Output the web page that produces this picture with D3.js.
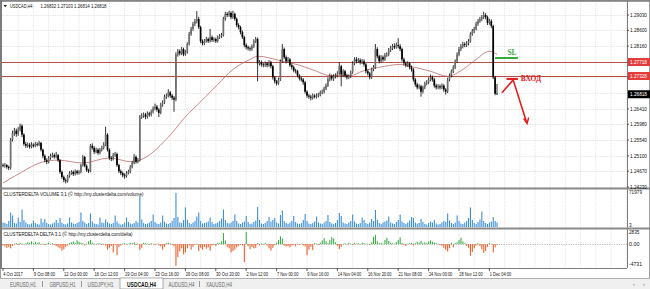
<!DOCTYPE html>
<html>
<head>
<meta charset="utf-8">
<script src="https://cdn.jsdelivr.net/npm/d3@7/dist/d3.min.js"></script>
<style>
body { margin: 0; background: #fff; }
svg { display: block; font-family: "Liberation Sans", "DejaVu Sans", sans-serif; }
</style>
</head>
<body>
<svg id="chart" width="650" height="289"></svg>
<script>
// USDCAD H4, first bar 4 Oct 2017 16:00
const firstOpen = 1.2484;
const closes = [
	1.2482, 1.2484, 1.2479, 1.2476, 1.2555, 1.2574, 1.2580, 1.2571, 1.2583, 1.2594,
	1.2569, 1.2543, 1.2538, 1.2541, 1.2535, 1.2541, 1.2538, 1.2543, 1.2541, 1.2546,
	1.2527, 1.2510, 1.2498, 1.2493, 1.2504, 1.2510, 1.2512, 1.2507, 1.2512, 1.2498,
	1.2465, 1.2451, 1.2442, 1.2439, 1.2453, 1.2462, 1.2465, 1.2459, 1.2467, 1.2462,
	1.2465, 1.2484, 1.2507, 1.2482, 1.2470, 1.2467, 1.2538, 1.2532, 1.2521, 1.2527,
	1.2518, 1.2527, 1.2532, 1.2541, 1.2569, 1.2527, 1.2504, 1.2501, 1.2512, 1.2515,
	1.2484, 1.2467, 1.2462, 1.2456, 1.2453, 1.2462, 1.2465, 1.2479, 1.2490, 1.2507,
	1.2493, 1.2498, 1.2619, 1.2622, 1.2625, 1.2619, 1.2628, 1.2625, 1.2633, 1.2642,
	1.2647, 1.2639, 1.2630, 1.2653, 1.2659, 1.2675, 1.2678, 1.2687, 1.2678, 1.2672,
	1.2667, 1.2793, 1.2802, 1.2796, 1.2808, 1.2793, 1.2799, 1.2822, 1.2850, 1.2864,
	1.2878, 1.2886, 1.2892, 1.2869, 1.2830, 1.2824, 1.2830, 1.2836, 1.2830, 1.2841,
	1.2833, 1.2836, 1.2830, 1.2841, 1.2844, 1.2847, 1.2892, 1.2906, 1.2903, 1.2909,
	1.2897, 1.2906, 1.2892, 1.2875, 1.2869, 1.2855, 1.2841, 1.2819, 1.2813, 1.2810,
	1.2808, 1.2816, 1.2830, 1.2836, 1.2768, 1.2771, 1.2765, 1.2763, 1.2768, 1.2763,
	1.2771, 1.2760, 1.2729, 1.2718, 1.2712, 1.2723, 1.2774, 1.2808, 1.2785, 1.2774,
	1.2779, 1.2763, 1.2757, 1.2748, 1.2746, 1.2734, 1.2726, 1.2723, 1.2715, 1.2689,
	1.2678, 1.2675, 1.2672, 1.2678, 1.2675, 1.2678, 1.2681, 1.2687, 1.2689, 1.2698,
	1.2706, 1.2723, 1.2732, 1.2726, 1.2732, 1.2734, 1.2740, 1.2760, 1.2737, 1.2746,
	1.2734, 1.2729, 1.2732, 1.2743, 1.2768, 1.2779, 1.2774, 1.2777, 1.2771, 1.2774,
	1.2765, 1.2746, 1.2740, 1.2729, 1.2751, 1.2757, 1.2808, 1.2788, 1.2774, 1.2785,
	1.2779, 1.2791, 1.2793, 1.2805, 1.2810, 1.2816, 1.2813, 1.2819, 1.2816, 1.2808,
	1.2779, 1.2768, 1.2763, 1.2768, 1.2757, 1.2751, 1.2723, 1.2709, 1.2701, 1.2704,
	1.2689, 1.2701, 1.2712, 1.2715, 1.2723, 1.2729, 1.2723, 1.2706, 1.2701, 1.2704,
	1.2701, 1.2706, 1.2695, 1.2689, 1.2723, 1.2734, 1.2746, 1.2757, 1.2774, 1.2793,
	1.2808, 1.2816, 1.2822, 1.2819, 1.2824, 1.2830, 1.2850, 1.2858, 1.2864, 1.2878,
	1.2886, 1.2892, 1.2897, 1.2903, 1.2897, 1.2881, 1.2886, 1.2872, 1.2729, 1.26832,
	1.26818
];
const highs = [
	1.2489, 1.2490, 1.2487, 1.2483, 1.2560, 1.2580, 1.2588, 1.2586, 1.2590, 1.2600,
	1.2598, 1.2573, 1.2549, 1.2547, 1.2546, 1.2548, 1.2545, 1.2549, 1.2548, 1.2552,
	1.2549, 1.2530, 1.2514, 1.2503, 1.2509, 1.2516, 1.2519, 1.2517, 1.2521, 1.2515,
	1.2501, 1.2469, 1.2455, 1.2447, 1.2457, 1.2467, 1.2470, 1.2469, 1.2472, 1.2471,
	1.2470, 1.2488, 1.2512, 1.2510, 1.2486, 1.2474, 1.2543, 1.2545, 1.2537, 1.2533,
	1.2531, 1.2532, 1.2538, 1.2548, 1.2591, 1.2573, 1.2531, 1.2509, 1.2518, 1.2521,
	1.2519, 1.2488, 1.2472, 1.2466, 1.2461, 1.2467, 1.2471, 1.2484, 1.2496, 1.2515,
	1.2511, 1.2504, 1.2624, 1.2629, 1.2631, 1.2630, 1.2634, 1.2633, 1.2639, 1.2648,
	1.2656, 1.2652, 1.2643, 1.2658, 1.2665, 1.2681, 1.2684, 1.2696, 1.2691, 1.2683,
	1.2677, 1.2799, 1.2808, 1.2807, 1.2814, 1.2812, 1.2805, 1.2827, 1.2856, 1.2870,
	1.2884, 1.2892, 1.2914, 1.2898, 1.2873, 1.2835, 1.2836, 1.2842, 1.2840, 1.2864,
	1.2846, 1.2841, 1.2840, 1.2846, 1.2850, 1.2853, 1.2898, 1.2912, 1.2911, 1.2915,
	1.2913, 1.2915, 1.2910, 1.2896, 1.2880, 1.2873, 1.2860, 1.2845, 1.2824, 1.2818,
	1.2815, 1.2821, 1.2835, 1.2842, 1.2840, 1.2777, 1.2776, 1.2770, 1.2773, 1.2772,
	1.2777, 1.2775, 1.2764, 1.2733, 1.2722, 1.2728, 1.2779, 1.2822, 1.2812, 1.2790,
	1.2786, 1.2783, 1.2768, 1.2762, 1.2753, 1.2750, 1.2738, 1.2731, 1.2727, 1.2719,
	1.2693, 1.2683, 1.2680, 1.2684, 1.2682, 1.2684, 1.2686, 1.2692, 1.2695, 1.2703,
	1.2712, 1.2729, 1.2740, 1.2737, 1.2738, 1.2740, 1.2746, 1.2771, 1.2764, 1.2752,
	1.2750, 1.2739, 1.2737, 1.2748, 1.2774, 1.2785, 1.2786, 1.2783, 1.2782, 1.2780,
	1.2779, 1.2769, 1.2751, 1.2744, 1.2756, 1.2763, 1.2822, 1.2813, 1.2792, 1.2791,
	1.2790, 1.2797, 1.2799, 1.2811, 1.2817, 1.2822, 1.2824, 1.2826, 1.2838, 1.2822,
	1.2812, 1.2784, 1.2773, 1.2774, 1.2772, 1.2762, 1.2755, 1.2727, 1.2714, 1.2710,
	1.2708, 1.2706, 1.2717, 1.2721, 1.2729, 1.2737, 1.2734, 1.2727, 1.2711, 1.2710,
	1.2709, 1.2712, 1.2710, 1.2699, 1.2728, 1.2740, 1.2751, 1.2763, 1.2779, 1.2799,
	1.2814, 1.2822, 1.2828, 1.2827, 1.2830, 1.2836, 1.2855, 1.2864, 1.2870, 1.2884,
	1.2892, 1.2898, 1.2903, 1.2912, 1.2908, 1.2901, 1.2892, 1.2891, 1.2876, 1.2733,
	1.27103
];
const lows = [
	1.2478, 1.2477, 1.2474, 1.2470, 1.2472, 1.2550, 1.2566, 1.2563, 1.2566, 1.2578,
	1.2562, 1.2538, 1.2532, 1.2533, 1.2530, 1.2531, 1.2533, 1.2534, 1.2536, 1.2537,
	1.2522, 1.2503, 1.2492, 1.2487, 1.2489, 1.2499, 1.2505, 1.2502, 1.2503, 1.2493,
	1.2460, 1.2446, 1.2436, 1.2433, 1.2435, 1.2449, 1.2457, 1.2454, 1.2455, 1.2457,
	1.2458, 1.2461, 1.2480, 1.2478, 1.2465, 1.2462, 1.2464, 1.2527, 1.2515, 1.2517,
	1.2513, 1.2514, 1.2522, 1.2528, 1.2537, 1.2522, 1.2498, 1.2495, 1.2497, 1.2507,
	1.2479, 1.2462, 1.2456, 1.2450, 1.2446, 1.2449, 1.2458, 1.2461, 1.2475, 1.2486,
	1.2488, 1.2489, 1.2494, 1.2613, 1.2616, 1.2612, 1.2614, 1.2619, 1.2620, 1.2628,
	1.2637, 1.2633, 1.2618, 1.2626, 1.2647, 1.2655, 1.2669, 1.2673, 1.2672, 1.2666,
	1.2633, 1.2662, 1.2787, 1.2790, 1.2791, 1.2788, 1.2789, 1.2795, 1.2818, 1.2845,
	1.2859, 1.2872, 1.2880, 1.2864, 1.2824, 1.2818, 1.2819, 1.2826, 1.2825, 1.2826,
	1.2828, 1.2828, 1.2825, 1.2826, 1.2836, 1.2839, 1.2843, 1.2887, 1.2897, 1.2898,
	1.2891, 1.2892, 1.2887, 1.2869, 1.2863, 1.2849, 1.2836, 1.2813, 1.2807, 1.2804,
	1.2802, 1.2803, 1.2811, 1.2825, 1.2718, 1.2762, 1.2759, 1.2757, 1.2758, 1.2757,
	1.2758, 1.2754, 1.2723, 1.2712, 1.2706, 1.2708, 1.2719, 1.2770, 1.2780, 1.2768,
	1.2769, 1.2758, 1.2751, 1.2743, 1.2740, 1.2729, 1.2720, 1.2717, 1.2708, 1.2684,
	1.2672, 1.2669, 1.2665, 1.2667, 1.2670, 1.2670, 1.2673, 1.2676, 1.2682, 1.2684,
	1.2693, 1.2702, 1.2718, 1.2720, 1.2719, 1.2726, 1.2729, 1.2736, 1.2704, 1.2731,
	1.2729, 1.2723, 1.2724, 1.2727, 1.2739, 1.2763, 1.2768, 1.2769, 1.2765, 1.2766,
	1.2759, 1.2740, 1.2734, 1.2723, 1.2725, 1.2746, 1.2753, 1.2782, 1.2768, 1.2770,
	1.2773, 1.2775, 1.2786, 1.2788, 1.2800, 1.2805, 1.2808, 1.2809, 1.2810, 1.2802,
	1.2773, 1.2762, 1.2757, 1.2758, 1.2751, 1.2745, 1.2717, 1.2703, 1.2695, 1.2696,
	1.2675, 1.2684, 1.2696, 1.2707, 1.2710, 1.2718, 1.2717, 1.2700, 1.2695, 1.2696,
	1.2695, 1.2696, 1.2689, 1.2681, 1.2685, 1.2718, 1.2729, 1.2741, 1.2752, 1.2769,
	1.2788, 1.2802, 1.2810, 1.2813, 1.2814, 1.2818, 1.2826, 1.2845, 1.2852, 1.2860,
	1.2873, 1.2881, 1.2886, 1.2892, 1.2891, 1.2875, 1.2876, 1.2866, 1.2724, 1.2679,
	1.26814
];
// moving average read at sample bars
const maBars = [0, 9, 21, 29, 42, 56, 68, 72, 89, 96, 104, 113, 121, 130, 134, 147, 156, 165, 172, 183, 189, 198, 209, 214, 225, 234, 242, 249, 256, 260];
const maValues = [1.2434, 1.2462, 1.2493, 1.2498, 1.2490, 1.2504, 1.2493, 1.2498, 1.2574, 1.2619, 1.2661, 1.2709, 1.2751, 1.2779, 1.2788, 1.2774, 1.2763, 1.2746, 1.2734, 1.2734, 1.2746, 1.2757, 1.2765, 1.2760, 1.2746, 1.2732, 1.2751, 1.2779, 1.2802, 1.2793];

const volumes = [
	9000, 8000, 6000, 12000, 29000, 23000, 8000, 7000, 19000, 10000,
	35000, 14000, 9000, 6000, 5000, 7000, 13000, 8000, 6000, 5000,
	17000, 9000, 16000, 8000, 6000, 5000, 7000, 9000, 14000, 8000,
	18000, 9000, 6000, 5000, 7000, 19000, 9000, 7000, 6000, 8000,
	10000, 29000, 12000, 9000, 6000, 8000, 27000, 11000, 7000, 6000,
	5000, 19000, 9000, 8000, 15000, 10000, 7000, 6000, 8000, 23000,
	11000, 7000, 5000, 6000, 9000, 19000, 10000, 7000, 6000, 8000,
	12000, 9000, 62000, 15000, 8000, 6000, 7000, 9000, 12000, 25000,
	10000, 7000, 6000, 9000, 23000, 11000, 7000, 6000, 8000, 12000,
	18000, 68000, 20000, 9000, 8000, 14000, 39000, 15000, 8000, 6000,
	9000, 12000, 21000, 29000, 12000, 7000, 8000, 9000, 11000, 19000,
	10000, 6000, 7000, 9000, 12000, 17000, 35000, 14000, 8000, 7000,
	9000, 12000, 25000, 12000, 7000, 6000, 9000, 11000, 22000, 10000,
	6000, 7000, 10000, 13000, 40000, 14000, 7000, 6000, 8000, 12000,
	20000, 11000, 14000, 18000, 9000, 7000, 24000, 33000, 12000, 8000,
	6000, 9000, 12000, 22000, 10000, 7000, 6000, 8000, 14000, 26000,
	12000, 7000, 6000, 8000, 11000, 21000, 9000, 7000, 6000, 9000,
	12000, 24000, 10000, 7000, 6000, 8000, 14000, 28000, 22000, 9000,
	7000, 6000, 9000, 12000, 25000, 11000, 7000, 6000, 8000, 19000,
	14000, 8000, 6000, 9000, 16000, 12000, 34000, 14000, 8000, 6000,
	9000, 11000, 13000, 21000, 9000, 7000, 6000, 10000, 14000, 25000,
	11000, 8000, 6000, 9000, 13000, 20000, 18000, 9000, 7000, 8000,
	16000, 10000, 6000, 5000, 8000, 11000, 9000, 14000, 7000, 5000,
	6000, 9000, 12000, 10000, 27000, 13000, 8000, 6000, 9000, 23000,
	12000, 7000, 6000, 9000, 12000, 18000, 39000, 14000, 8000, 6000,
	10000, 15000, 31000, 12000, 8000, 6000, 9000, 11000, 20000, 12000,
	9000
];
const deltas = [
	-300, -500, -800, -600, -900, -400, 100, 200, -200, 300,
	150, -100, 200, 400, 300, 600, 200, 500, 300, 400,
	-100, 100, -200, 150, 300, -100, 200, -150, -400, -700,
	-900, -1400, -1100, -600, -300, 200, 400, 600, 300, 800,
	500, 300, 200, -300, 100, 600, 900, 300, 100, -100,
	200, 150, -200, 100, -300, -1200, -800, -400, -1800, -200,
	-2400, -600, -300, 100, 200, -100, 100, 300, 200, 400,
	-200, 100, -1300, -800, 300, 200, 100, -100, 200, 100,
	-200, 100, -300, -500, -1200, -600, 200, 300, 100, -200,
	-500, -4700, -2800, -1600, -900, -2200, -1800, -900, -300, -1200,
	-600, -200, 100, -1500, -800, -1200, -600, -1000, -700, -1400,
	-300, -200, -400, 300, 200, 600, 2400, 800, -600, -900,
	-1800, -1500, -1200, -700, -400, -200, -300, -3900, 2600, -400,
	-1100, -600, -900, -800, 200, -300, 100, -100, 200, -300,
	-900, -1400, -800, -200, 300, 900, 1700, 1200, -300, -500,
	-400, -700, -300, -200, -500, 100, -200, 100, -300, -500,
	-2400, -1200, -600, -1300, 200, 100, -200, 300, 800, 1300,
	600, 200, 900, 1500, 1200, 400, -300, -1100, -600, 100,
	200, -100, 300, 100, -200, 300, 100, 200, -100, 300,
	200, 100, 100, -200, 400, 1600, 2000, 600, 200, 300,
	100, 900, 1400, 700, 300, 200, 100, 400, 900, 1500,
	300, -200, -400, 100, 200, 300, -300, 200, 500, 300,
	700, 200, 400, 200, 600, 800, 500, 300, 200, 100,
	-200, -400, -800, -1200, -1600, -900, 300, -700, 200, 400,
	900, 1400, 600, 200, -400, -800, -2500, -1700, -900, -300,
	200, -400, -1100, -1900, -1500, -600, 200, 100, -1800, -700,
	-200
];

const priceTicks = [1.29030, 1.28600, 1.28160, 1.27720, 1.27290, 1.26850, 1.26410, 1.25980, 1.25540, 1.25100, 1.24670, 1.24230];
const levelPrices = [1.27718, 1.27328];
const timeLabels = ["4 Oct 2017", "9 Oct 08:00", "12 Oct 00:00", "16 Oct 12:00", "19 Oct 04:00", "23 Oct 16:00", "26 Oct 08:00", "30 Oct 20:00", "2 Nov 12:00", "7 Nov 00:00", "9 Nov 16:00", "14 Nov 04:00", "16 Nov 20:00", "21 Nov 08:00", "24 Nov 00:00", "28 Nov 12:00", "1 Dec 04:00"];
const tabs = ["EURUSD,H1", "GBPUSD,H1", "USDJPY,H1", "USDCAD,H4", "AUDUSD,H4", "XAUUSD,H4"];
const activeTab = "USDCAD,H4";

const svg = d3.select("#chart");
const plotLeft = 2;
const plotRight = 627;
const fs = 5.6;
const charW = 1.95;

// squeeze small text to the narrow terminal font widths
const fit = (sel, w) => sel.attr("textLength", w).attr("lengthAdjust", "spacingAndGlyphs");

const x = d3.scaleLinear().domain([0, 328]).range([3, 3 + 1.9 * 328]);
const y = d3.scaleLinear().domain([1.24230, 1.29030]).range([187, 15]);
const yVol = d3.scaleLinear().domain([0, 71979]).range([227, 191]);
const yDelta = d3.scaleLinear().domain([-4731, 2835]).range([266, 231]);

const panels = [{top: 1, bottom: 188}, {top: 189, bottom: 228}, {top: 229, bottom: 268}];

const bars = closes.map((c, i) => ({
	i,
	open: i === 0 ? firstOpen : closes[i - 1],
	high: highs[i],
	low: lows[i],
	close: c,
	volume: volumes[i],
	delta: deltas[i]
}));

// grid
const grid = svg.append("g").attr("stroke", "#d0d0d0").attr("stroke-width", 0.6).attr("stroke-dasharray", "1.2,1.2");
const gridBars = d3.range(8, 329, 8);
panels.forEach((p) => {
	grid.selectAll(null)
	.data(gridBars)
	.enter()
	.append("line")
	.attr("x1", (d) => x(d))
	.attr("x2", (d) => x(d))
	.attr("y1", p.top)
	.attr("y2", p.bottom);
});
grid.selectAll(null)
.data(priceTicks)
.enter()
.append("line")
.attr("x1", plotLeft)
.attr("x2", plotRight)
.attr("y1", (d) => Math.round(y(d)) + 0.5)
.attr("y2", (d) => Math.round(y(d)) + 0.5);
grid.append("line")
.attr("x1", plotLeft).attr("x2", plotRight)
.attr("y1", Math.round(yDelta(0)) + 0.5).attr("y2", Math.round(yDelta(0)) + 0.5)
.attr("stroke", "#888");

// support/resistance lines
svg.append("g")
.selectAll("line")
.data(levelPrices)
.enter()
.append("line")
.attr("x1", plotLeft)
.attr("x2", plotRight)
.attr("y1", (d) => Math.round(y(d)) + 0.5)
.attr("y2", (d) => Math.round(y(d)) + 0.5)
.attr("stroke", "#b8504a")
.attr("stroke-width", 1);

// moving average
const maLine = d3.line()
.x((d) => x(d[0]))
.y((d) => y(d[1]))
.curve(d3.curveMonotoneX);
svg.append("path")
.attr("d", maLine(maBars.map((b, k) => [b, maValues[k]])))
.attr("fill", "none")
.attr("stroke", "#c06a6a")
.attr("stroke-width", 0.8);

// candles
const candle = svg.append("g").selectAll("g")
.data(bars)
.enter()
.append("g");
candle.append("line")
.attr("x1", (d) => x(d.i))
.attr("x2", (d) => x(d.i))
.attr("y1", (d) => y(d.high))
.attr("y2", (d) => y(d.low))
.attr("stroke", "#000")
.attr("stroke-width", 0.8);
candle.append("rect")
.attr("x", (d) => x(d.i) - 0.85)
.attr("width", 1.7)
.attr("y", (d) => y(Math.max(d.open, d.close)))
.attr("height", (d) => Math.max(0.7, Math.abs(y(d.open) - y(d.close))))
.attr("fill", (d) => d.close >= d.open ? "#707070" : "#000");

// volume
svg.append("g").selectAll("rect")
.data(bars)
.enter()
.append("rect")
.attr("x", (d) => x(d.i) - 0.5)
.attr("width", 1.1)
.attr("y", (d) => yVol(d.volume))
.attr("height", (d) => yVol(0) - yVol(d.volume))
.attr("fill", "#3d8fd8");

// delta
svg.append("g").selectAll("rect")
.data(bars)
.enter()
.append("rect")
.attr("x", (d) => x(d.i) - 0.5)
.attr("width", 1.1)
.attr("y", (d) => yDelta(Math.max(0, d.delta)))
.attr("height", (d) => Math.abs(yDelta(d.delta) - yDelta(0)))
.attr("fill", (d) => d.delta >= 0 ? "#3fae49" : "#e8622c");

// annotations
const ann = svg.append("g");
ann.append("line")
.attr("x1", x(259)).attr("x2", x(271))
.attr("y1", y(1.2783)).attr("y2", y(1.2783))
.attr("stroke", "#3aa935").attr("stroke-width", 2);
ann.append("text")
.attr("x", x(265.5)).attr("y", y(1.2791))
.attr("font-family", "Liberation Serif, serif")
.attr("font-size", 7.5).attr("font-weight", "bold")
.attr("fill", "#3aa935").text("SL");
ann.append("line")
.attr("x1", x(265)).attr("x2", x(271))
.attr("y1", y(1.27245)).attr("y2", y(1.27245))
.attr("stroke", "#e0201c").attr("stroke-width", 2);
ann.append("text")
.attr("x", x(272.5)).attr("y", y(1.2718))
.attr("font-family", "Liberation Serif, serif")
.attr("font-size", 7.5).attr("font-weight", "bold")
.attr("fill", "#e0201c").text("ВХОД");
const arrowPath = [[262.6, 1.2686], [268.5, 1.2722], [275.6, 1.2603]];
ann.append("path")
.attr("d", d3.line().x((d) => x(d[0])).y((d) => y(d[1]))(arrowPath))
.attr("fill", "none").attr("stroke", "#e0201c").attr("stroke-width", 1.6);
const tip = arrowPath[2];
ann.append("path")
.attr("d", `M${x(tip[0]) - 3},${y(tip[1]) - 4}L${x(tip[0]) + 0.5},${y(tip[1]) + 1}L${x(tip[0]) + 2},${y(tip[1]) - 5}`)
.attr("fill", "none").attr("stroke", "#e0201c").attr("stroke-width", 1.4);

// frames and separators
const frame = svg.append("g").attr("fill", "none").attr("stroke", "#7c7c7c");
frame.append("rect").attr("x", 0.5).attr("y", 0.5).attr("width", 649).attr("height", 278).attr("stroke", "#a0a0a0");
frame.append("line").attr("x1", 1).attr("x2", 1).attr("y1", 0).attr("y2", 269).attr("stroke-width", 2);
frame.append("line").attr("x1", 0).attr("x2", 650).attr("y1", 1).attr("y2", 1).attr("stroke-width", 1.5);
frame.append("line").attr("x1", plotRight + 0.5).attr("x2", plotRight + 0.5).attr("y1", 1).attr("y2", 268);
[188.5, 228.5].forEach((yy) => {
	frame.append("line").attr("x1", plotLeft).attr("x2", 650).attr("y1", yy).attr("y2", yy).attr("stroke-width", 2).attr("stroke", "#8a8a8a");
});
frame.append("line").attr("x1", plotLeft).attr("x2", plotRight).attr("y1", 268.5).attr("y2", 268.5);

// price scale labels
const scale = svg.append("g").attr("font-size", fs).attr("fill", "#111");
scale.selectAll("text")
.data(priceTicks)
.enter()
.append("text")
.attr("x", 630)
.attr("y", (d) => y(d) + 2)
.text((d) => d.toFixed(5))
.call(fit, 17);
scale.selectAll("line.tk")
.data(priceTicks)
.enter()
.append("line")
.attr("x1", plotRight).attr("x2", plotRight + 2)
.attr("y1", (d) => y(d)).attr("y2", (d) => y(d))
.attr("stroke", "#555");

const tagData = levelPrices.map((p) => ({p, bg: "#e23c3c"})).concat([{p: closes[closes.length - 1], bg: "#000"}]);
const tags = svg.append("g").selectAll("g").data(tagData).enter().append("g");
tags.append("rect")
.attr("x", plotRight + 1).attr("width", 650 - plotRight - 1)
.attr("y", (d) => y(d.p) - 4).attr("height", 8)
.attr("fill", (d) => d.bg);
tags.append("text")
.attr("x", 630).attr("y", (d) => y(d.p) + 2)
.attr("font-size", fs).attr("fill", "#fff")
.text((d) => d.p.toFixed(5))
.call(fit, 17);

// sub panel scale labels
const subLabels = [
	{t: "71979", yy: yVol(71979) + 2.5},
	{t: "3", yy: yVol(0) - 0.5},
	{t: "2835", yy: yDelta(2835) + 2.5},
	{t: "0.00", yy: yDelta(0) + 2},
	{t: "-4731", yy: yDelta(-4731)}
];
svg.append("g").selectAll("text").data(subLabels).enter().append("text")
.attr("x", 629).attr("y", (d) => d.yy)
.attr("font-size", fs).attr("fill", "#111")
.text((d) => d.t)
.each(function (d) {
	d3.select(this).call(fit, d.t.length * 2.6);
});

// titles
const titles = svg.append("g").attr("font-size", fs).attr("fill", "#111");
titles.append("path").attr("d", "M3.5,5L7,5L5.25,7.2Z").attr("fill", "#222");
titles.append("text").attr("x", 10).attr("y", 7.5).text("USDCAD,H4").call(fit, 22.5);
titles.append("text").attr("x", 40.5).attr("y", 7.5).text("1.26832 1.27103 1.26814 1.26818").call(fit, 66);
titles.append("text").attr("x", 3.5).attr("y", 195.5).text("CLUSTERDELTA VOLUME 3.1 (© http://my.clusterdelta.com/volume)").call(fit, 140);
titles.append("text").attr("x", 3.5).attr("y", 235.5).text("CLUSTERDELTA DELTA 3.1 (© http://my.clusterdelta.com/delta)").call(fit, 129);

// time axis
const timeG = svg.append("g").attr("font-size", fs).attr("fill", "#111");
timeG.selectAll("text")
.data(timeLabels)
.enter()
.append("text")
.attr("x", (d, k) => x(k * 16) + 0.3)
.attr("y", 276)
.text((d) => d)
.each(function (d) {
	d3.select(this).call(fit, d.length * charW);
});
timeG.selectAll("line")
.data(timeLabels)
.enter()
.append("line")
.attr("x1", (d, k) => x(k * 16))
.attr("x2", (d, k) => x(k * 16))
.attr("y1", 268).attr("y2", 271)
.attr("stroke", "#555");

// tab bar
svg.append("rect").attr("x", 0).attr("y", 278).attr("width", 650).attr("height", 11).attr("fill", "#f0f0f0");
svg.append("line").attr("x1", 0).attr("x2", 650).attr("y1", 278.5).attr("y2", 278.5).attr("stroke", "#b0b0b0");
const tabX = [4, 44, 83, 120, 164, 201];
const tabW = [38, 37, 35, 43, 35, 36];
const tabG = svg.append("g").attr("font-size", 6.4);
tabs.forEach((t, k) => {
	if (t === activeTab) {
		tabG.append("rect").attr("x", tabX[k]).attr("y", 278).attr("width", tabW[k]).attr("height", 11)
		.attr("fill", "#fff").attr("stroke", "#8a8a8a").attr("stroke-width", 0.7);
	} else if (k > 0 && tabs[k - 1] !== activeTab) {
		tabG.append("line").attr("x1", tabX[k] - 1.5).attr("x2", tabX[k] - 1.5).attr("y1", 281).attr("y2", 287).attr("stroke", "#9a9a9a");
	}
	tabG.append("text")
	.attr("x", tabX[k] + tabW[k] / 2).attr("y", 286.5)
	.attr("text-anchor", "middle")
	.attr("fill", t === activeTab ? "#111" : "#666")
	.attr("font-weight", t === activeTab ? "bold" : "normal")
	.text(t)
	.call(fit, t === activeTab ? 29 : 26);
});
svg.append("text").attr("x", 633).attr("y", 285.5).attr("font-size", 5.5).attr("fill", "#777").text("‹");
svg.append("text").attr("x", 643).attr("y", 285.5).attr("font-size", 5.5).attr("fill", "#777").text("›");
</script>
</body>
</html>
